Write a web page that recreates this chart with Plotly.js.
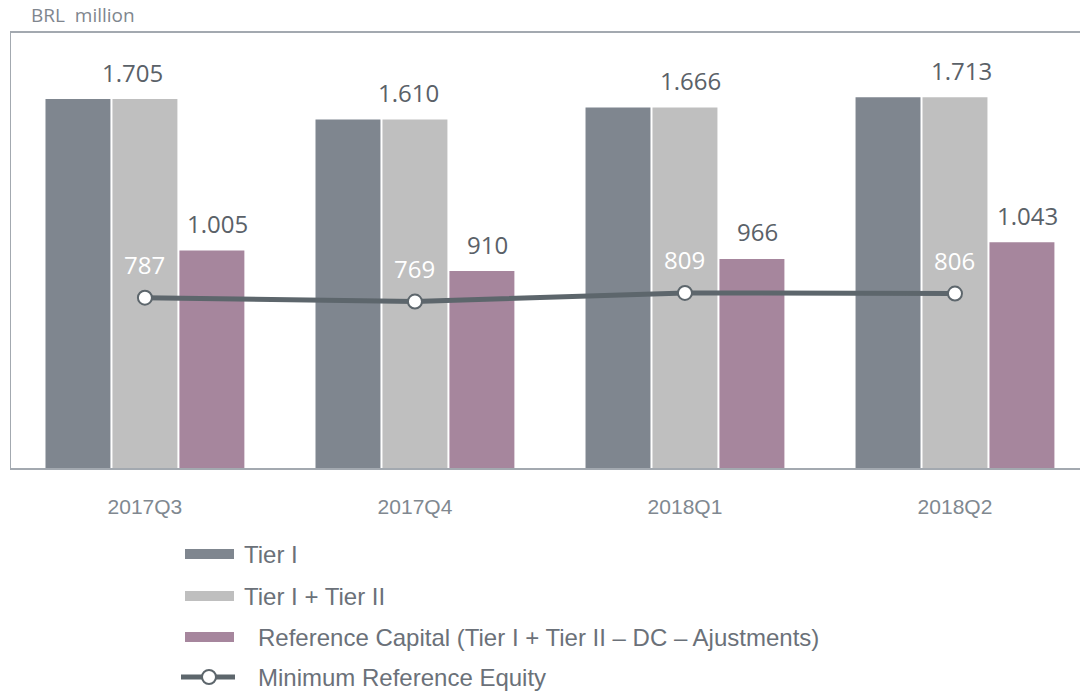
<!DOCTYPE html>
<html>
<head>
<meta charset="utf-8">
<script src="https://cdn.plot.ly/plotly-3.0.1.min.js"></script>
<style>html,body{margin:0;padding:0;background:#fff;}#chart{width:1080px;height:698px;}</style>
</head>
<body>
<div id="chart"></div>
<script>
const quarters = ["2017Q3", "2017Q4", "2018Q1", "2018Q2"];
const tier1 = [1705, 1610, 1666, 1713];
const tier1plus2 = [1705, 1610, 1666, 1713];
const refCapital = [1005, 910, 966, 1043];
const minRefEquity = [787, 769, 809, 806];
const tier1Labels = ["1.705", "1.610", "1.666", "1.713"];
const refLabels = ["1.005", "910", "966", "1.043"];
const minLabels = ["787", "769", "809", "806"];
const seriesNames = ["Tier I", "Tier I + Tier II", "Reference Capital (Tier I + Tier II \u2013 DC \u2013 Ajustments)", "Minimum Reference Equity"];

const C_T1 = "#7f868f", C_T12 = "#bfbfbf", C_REF = "#a6869d", C_LINE = "#5d666c";
const labelFont = {family: "Open Sans, Noto Sans, sans-serif", size: 24, color: "#5a6168"};

// plot area geometry (pixels)
const L = 11, T = 33, B = 468, R = 1080;
const PH = B - T, PW = R - L;
const py = p => (B - p) / PH;
const px = p => (p - L) / PW;

const traces = [
  {type: "bar", name: seriesNames[0], x: quarters, y: tier1, marker: {color: C_T1}, hoverinfo: "skip"},
  {type: "bar", name: seriesNames[1], x: quarters, y: tier1plus2, marker: {color: C_T12}, hoverinfo: "skip"},
  {type: "bar", name: seriesNames[2], x: quarters, y: refCapital, marker: {color: C_REF}, hoverinfo: "skip"},
  {type: "scatter", mode: "lines+markers", name: seriesNames[3], x: quarters, y: minRefEquity,
   line: {color: C_LINE, width: 5}, marker: {size: 14, color: "#fff", line: {color: C_LINE, width: 2}}, hoverinfo: "skip"}
];

// label placement styling (pixel nudges)
const topLabelNudge = [-12, -6, 6, 7];
const annotations = [];
quarters.forEach((q, i) => {
  annotations.push({x: q, y: tier1plus2[i], text: tier1Labels[i], showarrow: false, yanchor: "middle", xshift: topLabelNudge[i], yshift: 27, font: labelFont});
  annotations.push({x: q, y: refCapital[i], text: refLabels[i], showarrow: false, yanchor: "middle", xshift: 73, yshift: 27, font: labelFont});
  annotations.push({x: q, y: minRefEquity[i], text: minLabels[i], showarrow: false, yanchor: "middle", yshift: 33, font: Object.assign({}, labelFont, {color: "#ffffff"})});
});
annotations.push({xref: "paper", yref: "paper", x: px(29), y: py(15), xanchor: "left", yanchor: "middle", showarrow: false, text: "BRL  million",
  font: {family: "Open Sans, Noto Sans, sans-serif", size: 19, color: "#7f868e"}});

// custom legend
const legendRows = [554, 596, 637, 677];
const legendTextX = [242, 242, 256, 256];
const legendColors = [C_T1, C_T12, C_REF];
const shapes = [];
legendColors.forEach((c, i) => {
  shapes.push({type: "rect", xref: "paper", yref: "paper", x0: px(185), x1: px(234), y0: py(legendRows[i] - 5), y1: py(legendRows[i] + 5), fillcolor: c, line: {width: 0}});
});
shapes.push({type: "line", xref: "paper", yref: "paper", x0: px(181), x1: px(235), y0: py(legendRows[3]), y1: py(legendRows[3]), line: {color: C_LINE, width: 5}});
shapes.push({type: "circle", xref: "paper", yref: "paper", x0: px(202), x1: px(216), y0: py(legendRows[3] + 7), y1: py(legendRows[3] - 7), fillcolor: "#fff", line: {color: C_LINE, width: 2}});
seriesNames.forEach((n, i) => {
  annotations.push({xref: "paper", yref: "paper", x: px(legendTextX[i]), y: py(legendRows[i]), xanchor: "left", yanchor: "middle", showarrow: false, text: n,
    font: {family: "Liberation Sans, Arial, sans-serif", size: 24, color: "#6b7179"}});
});

const layout = {
  width: 1080, height: 698,
  margin: {l: L, r: 0, t: T, b: 698 - B, pad: 0},
  paper_bgcolor: "#fff", plot_bgcolor: "#fff",
  showlegend: false,
  barmode: "group", bargap: 0.256, bargroupgap: 0.03,
  xaxis: {type: "category", range: [-0.496, 3.463], showline: true, linecolor: "#a3a9b0", linewidth: 2, mirror: true,
    ticks: "outside", ticklen: 19, tickcolor: "rgba(0,0,0,0)", showgrid: false, zeroline: false,
    tickfont: {family: "Liberation Sans, Arial, sans-serif", size: 21, color: "#808890"}},
  yaxis: {range: [0, 2010], showline: true, linecolor: "#a3a9b0", linewidth: 1, showgrid: false, zeroline: false, showticklabels: false, ticks: ""},
  annotations: annotations,
  shapes: shapes
};

Plotly.newPlot("chart", traces, layout, {staticPlot: true, displayModeBar: false});
</script>
</body>
</html>
